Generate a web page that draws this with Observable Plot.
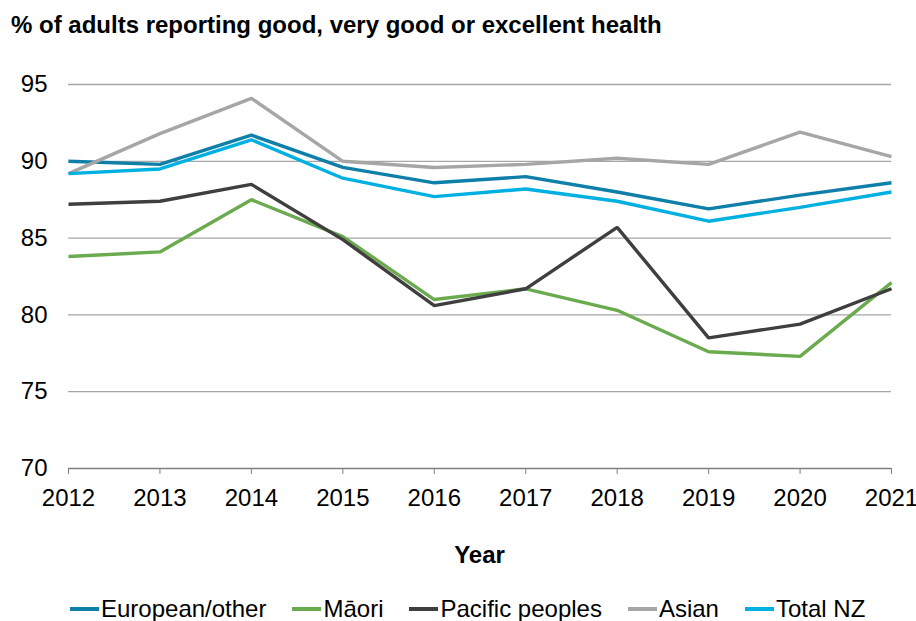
<!DOCTYPE html>
<html>
<head>
<meta charset="utf-8">
<script src="https://cdn.jsdelivr.net/npm/d3@7"></script>
<script src="https://cdn.jsdelivr.net/npm/@observablehq/plot@0.6"></script>
<style>
  body { margin: 0; background: #fff; font-family: "Liberation Sans", Arial, sans-serif; color: #000; }
  #wrap { width: 916px; }
  #title { height: 24px; line-height: 24px; padding: 13px 0 11px 11px; font-size: 24px; font-weight: bold; white-space: nowrap; }
  #xlabel { height: 24px; line-height: 24px; padding-top: 23px; font-size: 24px; font-weight: bold; text-align: center; padding-left: 43px; }
  #legend { display: flex; gap: 26px; padding-left: 70px; padding-top: 30px; font-size: 24px; line-height: 24px; }
  .item { display: flex; align-items: center; white-space: nowrap; }
  .sw { display: inline-block; width: 29px; height: 4px; margin-right: 2px; }
  svg { display: block; }
</style>
</head>
<body>
<div id="wrap">
  <div id="title">% of adults reporting good, very good or excellent health</div>
  <div id="chart"></div>
  <div id="xlabel">Year</div>
  <div id="legend"></div>
</div>
<script>
const years = [2012, 2013, 2014, 2015, 2016, 2017, 2018, 2019, 2020, 2021];
const seriesNames = ["European/other", "Māori", "Pacific peoples", "Asian", "Total NZ"];
const european = [90.0, 89.8, 91.7, 89.6, 88.6, 89.0, 88.0, 86.9, 87.8, 88.6];
const maori    = [83.8, 84.1, 87.5, 85.1, 81.0, 81.7, 80.3, 77.6, 77.3, 82.1];
const pacific  = [87.2, 87.4, 88.5, 84.9, 80.6, 81.7, 85.7, 78.5, 79.4, 81.7];
const asian    = [89.2, 91.8, 94.1, 90.0, 89.6, 89.8, 90.2, 89.8, 91.9, 90.3];
const totalNZ  = [89.2, 89.5, 91.4, 88.9, 87.7, 88.2, 87.4, 86.1, 87.0, 88.0];
const yTicks = [70, 75, 80, 85, 90, 95];
const colors = ["#0E7FA8", "#6AAB4F", "#3F3F3F", "#A6A6A6", "#00B0E0"];

const seriesValues = [european, maori, pacific, asian, totalNZ];
const rows = [];
seriesNames.forEach((name, i) => {
  years.forEach((yr, j) => rows.push({series: name, year: yr, value: seriesValues[i][j]}));
});

const chart = Plot.plot({
  width: 916,
  height: 472,
  marginTop: 36,
  marginBottom: 52,
  marginLeft: 68,
  marginRight: 25,
  style: { fontFamily: "'Liberation Sans', Arial, sans-serif", fontSize: "24px", color: "#000", background: "#fff" },
  x: { type: "linear", domain: [2012, 2021] },
  y: { domain: [70, 95] },
  color: { domain: seriesNames, range: colors },
  marks: [
    Plot.ruleY(yTicks.filter(d => d > 70), { stroke: "#A6A6A6", strokeWidth: 1.3, strokeOpacity: 1 }),
    Plot.ruleY([70], { stroke: "#808080", strokeWidth: 1.3, strokeOpacity: 1 }),
    Plot.axisY({ ticks: yTicks, tickSize: 0, tickPadding: 21, label: null, tickFormat: d => String(d), fill: "#000" }),
    Plot.axisX({ ticks: years, tickSize: 6, tickPadding: 14, label: null, tickFormat: d => String(d), stroke: "#808080", fill: "#000" }),
    Plot.line(rows, { x: "year", y: "value", z: "series", stroke: "series", strokeWidth: 3.4, strokeLinejoin: "miter", strokeLinecap: "butt" })
  ]
});
document.getElementById("chart").appendChild(chart);

const legend = document.getElementById("legend");
seriesNames.forEach((name, i) => {
  const item = document.createElement("div");
  item.className = "item";
  const sw = document.createElement("span");
  sw.className = "sw";
  sw.style.background = colors[i];
  const t = document.createElement("span");
  t.textContent = name;
  item.appendChild(sw);
  item.appendChild(t);
  legend.appendChild(item);
});
</script>
</body>
</html>
